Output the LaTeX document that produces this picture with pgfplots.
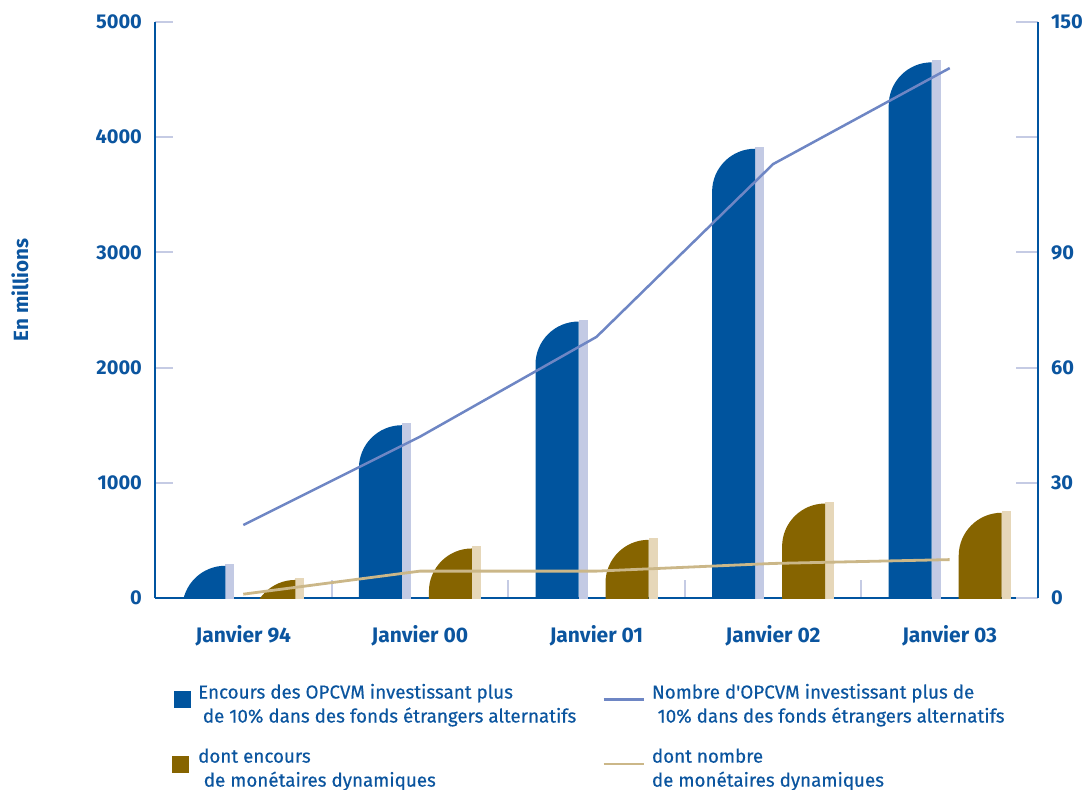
\documentclass[border=0pt]{standalone}
\usepackage{pgfplots}
\pgfplotsset{compat=1.18}
\usepackage{fontspec}
\setmainfont{Fira Sans}
\newfontfamily\legfont{Fira Sans}[FakeBold=0.4]
\definecolor{barblue}{HTML}{00549E}
\definecolor{barblueL}{HTML}{C3CAE4}
\definecolor{barbrown}{HTML}{866400}
\definecolor{barbrownL}{HTML}{E6D7B9}
\definecolor{lineblue}{HTML}{6E86C4}
\definecolor{linetan}{HTML}{CBB788}
\definecolor{axisblue}{HTML}{0054A0}
\definecolor{tickc}{HTML}{C5CBE4}
\definecolor{txt}{HTML}{0B559F}

% rounded-top bar faces, drawn at the data point (top of the bar), clipped at the axis baseline
\pgfdeclareplotmark{bluebar}{%
  \pgfsetfillcolor{barblueL}%
  \pgfpathrectanglecorners{\pgfpoint{-9pt}{-400pt}}{\pgfpoint{-4.5pt}{1pt}}%
  \pgfusepath{fill}%
  \pgfsetfillcolor{barblue}%
  \pgfpathmoveto{\pgfpoint{-30.5pt}{-400pt}}%
  \pgfpathlineto{\pgfpoint{-30.5pt}{-21.5pt}}%
  \pgfpatharc{180}{90}{21.5pt}%
  \pgfpathlineto{\pgfpoint{-9pt}{-400pt}}%
  \pgfpathclose
  \pgfusepath{fill}%
}
\pgfdeclareplotmark{brownbar}{%
  \pgfsetfillcolor{barbrownL}%
  \pgfpathrectanglecorners{\pgfpoint{26pt}{-400pt}}{\pgfpoint{30.5pt}{1pt}}%
  \pgfusepath{fill}%
  \pgfsetfillcolor{barbrown}%
  \pgfpathmoveto{\pgfpoint{4.5pt}{-400pt}}%
  \pgfpathlineto{\pgfpoint{4.5pt}{-21.5pt}}%
  \pgfpatharc{180}{90}{21.5pt}%
  \pgfpathlineto{\pgfpoint{26pt}{-400pt}}%
  \pgfpathclose
  \pgfusepath{fill}%
}
\newcommand{\lgd}[2]{\parbox[t]{198.5pt}{\raggedright #1\\#2}}

\begin{document}
\begin{tikzpicture}
\begin{axis}[
  scale only axis, width=441.5pt, height=288pt,
  xmin=-0.5, xmax=4.5, ymin=0, ymax=5000,
  axis x line*=bottom, axis y line*=left,
  axis line style={draw=axisblue, line width=1.25pt},
  tick align=inside, major tick length=9pt,
  tick style={draw=tickc, line width=1pt},
  xtick={0.5,1.5,2.5,3.5}, xticklabels={},
  extra x ticks={0,1,2,3,4},
  extra x tick labels={Janvier 94,Janvier 00,Janvier 01,Janvier 02,Janvier 03},
  extra x tick style={major tick length=0pt},
  xticklabel style={font=\bfseries\fontsize{10.5}{12}\selectfont, text=txt, yshift=-10pt},
  ytick={0,1000,...,5000},
  yticklabel style={font=\bfseries\fontsize{10}{11}\selectfont, text=txt, xshift=-3pt},
  /pgf/number format/assume math mode=true,
  /pgf/number format/1000 sep={},
  ylabel={En millions},
  every axis y label/.style={at={(rel axis cs:-0.1529,0.535)}, rotate=90, anchor=center,
     font=\bfseries\fontsize{10.3}{12}\selectfont, text=txt},
  clip marker paths=true,
  legend columns=2,
  legend cell align=left,
  legend style={at={(0.0124,-0.1414)}, anchor=north west, draw=none, fill=none,
     font=\legfont\fontsize{9.4}{12}\selectfont, text=txt, column sep=3.5pt, row sep=10pt,
     nodes={inner sep=0pt, text depth=15pt}},
]
\addplot[only marks, mark=bluebar, forget plot] coordinates {(0,280)(1,1500)(2,2400)(3,3900)(4,4650)};
\addplot[only marks, mark=brownbar, forget plot] coordinates {(0,157)(1,430)(2,505)(3,820)(4,740)};
\addlegendimage{legend image code/.code={\fill[barblue] (0pt,-0.7pt) rectangle (8pt,7.3pt);}}
\addlegendentry{\lgd{Encours des OPCVM investissant plus}{\hspace*{0.25em}de 10\% dans des fonds étrangers alternatifs}}
\addlegendimage{legend image code/.code={\draw[lineblue, line width=1.25pt] (0pt,3.3pt) -- (20pt,3.3pt);}}
\addlegendentry{\lgd{Nombre d\textquotesingle OPCVM investissant plus de}{\hspace*{0.3em}10\% dans des fonds étrangers alternatifs}}
\addlegendimage{legend image code/.code={\fill[barbrown] (-1pt,-0.7pt) rectangle (7pt,7.3pt);}}
\addlegendentry{\lgd{dont encours}{\hspace*{0.3em}de monétaires dynamiques}}
\addlegendimage{legend image code/.code={\draw[linetan, line width=1.4pt] (0pt,3.3pt) -- (20pt,3.3pt);}}
\addlegendentry{\lgd{dont nombre}{de monétaires dynamiques}}
\end{axis}
\begin{axis}[
  scale only axis, width=441.5pt, height=288pt,
  xmin=-0.5, xmax=4.5, ymin=0, ymax=150,
  axis x line=none, axis y line*=right,
  axis line style={draw=axisblue, line width=1.25pt},
  tick align=inside, major tick length=11pt,
  tick style={draw=tickc, line width=1pt},
  ytick={0,30,60,90,120,150}, yticklabels={0,30,60,90,,150},
  yticklabel style={font=\bfseries\fontsize{10}{11}\selectfont, text=txt, xshift=3pt},
]
\addplot[lineblue, line width=1.25pt] coordinates {(0,19)(1,42)(2,68)(3,113)(4,138)};
\addplot[linetan, line width=1.4pt] coordinates {(0,1)(1,7)(2,7)(3,9)(4,10)};
\end{axis}
\pgfresetboundingbox
\path (current axis.south west) ++(-77.5pt,-95.5pt) rectangle ++(545.5pt,394.5pt);
\end{tikzpicture}
\end{document}
